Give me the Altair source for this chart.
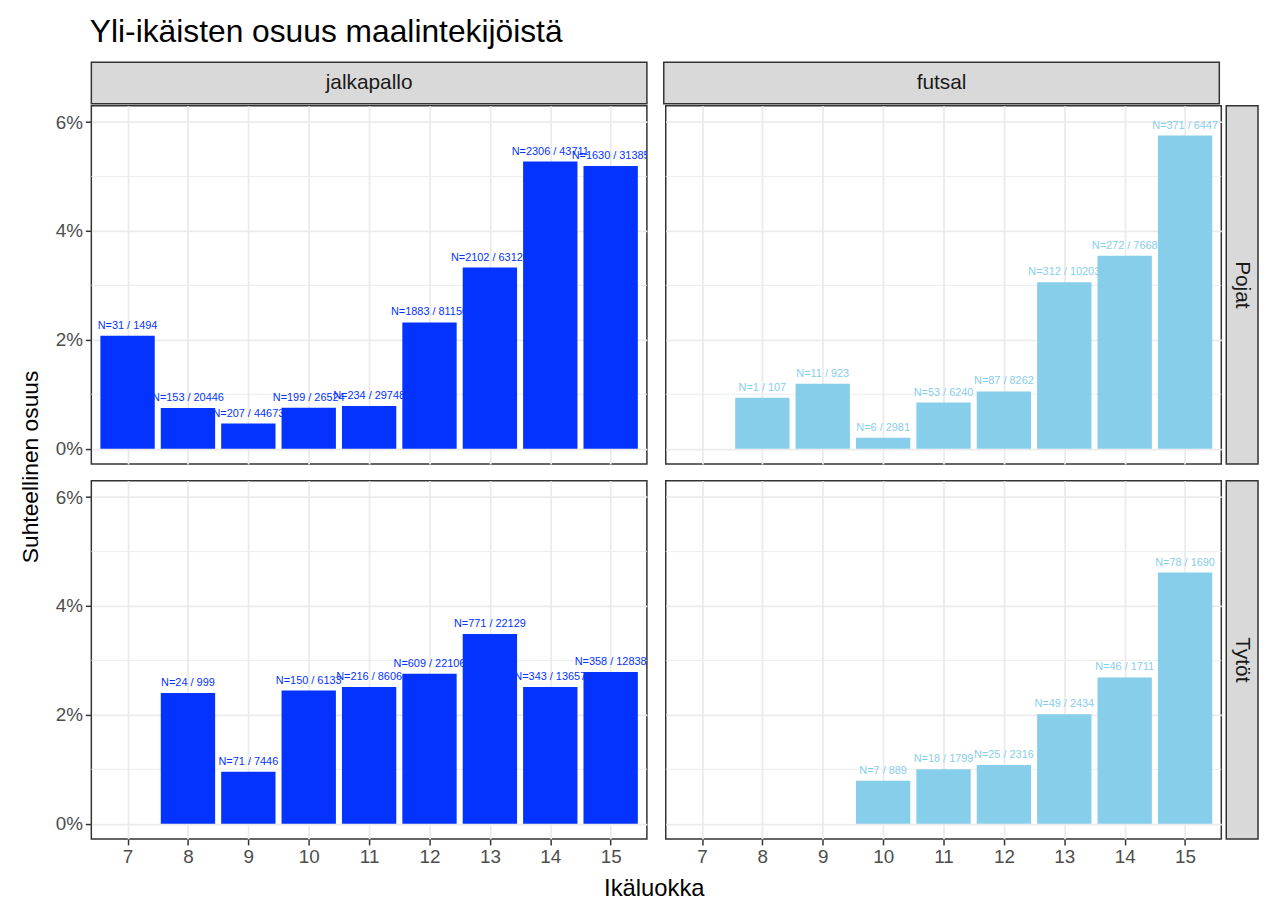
import altair as alt
import pandas as pd

title_text = "Yli-ikäisten osuus maalintekijöistä"
x_title = "Ikäluokka"
y_title = "Suhteellinen osuus"
sports = ["jalkapallo", "futsal"]
genders = ["Pojat", "Tytöt"]
ages = [7, 8, 9, 10, 11, 12, 13, 14, 15]

jk_pojat_n = [31, 153, 207, 199, 234, 1883, 2102, 2306, 1630]
jk_pojat_total = [1494, 20446, 44673, 26524, 29748, 81150, 63120, 43711, 31385]
fs_pojat_n = [None, 1, 11, 6, 53, 87, 312, 272, 371]
fs_pojat_total = [None, 107, 923, 2981, 6240, 8262, 10203, 7668, 6447]
jk_tytot_n = [None, 24, 71, 150, 216, 609, 771, 343, 358]
jk_tytot_total = [None, 999, 7446, 6133, 8606, 22106, 22129, 13657, 12838]
fs_tytot_n = [None, None, None, 7, 18, 25, 49, 46, 78]
fs_tytot_total = [None, None, None, 889, 1799, 2316, 2434, 1711, 1690]

y_major = [0, 0.02, 0.04, 0.06]
y_minor = [0.01, 0.03, 0.05]

colors = {"jalkapallo": "#0433FF", "futsal": "#87CEEB"}

PW, PH = 560, 361
FONT = "Liberation Sans"


def make_df(ns, totals):
    rows = []
    for a, n, t in zip(ages, ns, totals):
        if n is None:
            continue
        rows.append({"ika": a, "n": n, "total": t, "label": f"N={n} / {t}"})
    df = pd.DataFrame(rows)
    df["osuus"] = df["n"] / df["total"]
    return df


xscale = alt.Scale(domain=[6.4, 15.6], nice=False, zero=False)
yscale = alt.Scale(domain=[-0.0028, 0.063], nice=False, zero=False)


def panel(df, color, bottom, left):
    xaxis = alt.Axis(values=ages, grid=True, labels=bottom, ticks=bottom, domain=False,
                     labelFlush=False, title=None)
    yaxis = alt.Axis(values=y_major, grid=True, labels=left, ticks=left, domain=False,
                     format=".0%", title=None)
    base = alt.Chart(df).transform_calculate(
        x0="datum.ika - 0.45", x1="datum.ika + 0.45"
    )
    bars = base.mark_bar(color=color).encode(
        x=alt.X("x0:Q", scale=xscale, axis=xaxis),
        x2="x1:Q",
        y=alt.Y("osuus:Q", scale=yscale, axis=yaxis),
        y2=alt.datum(0),
    )
    minor = alt.Chart(pd.DataFrame({"v": y_minor})).mark_rule(
        color="#EBEBEB", strokeWidth=0.9
    ).encode(y=alt.Y("v:Q", scale=yscale, axis=yaxis))
    text = base.mark_text(color=color, fontSize=11, baseline="bottom", dy=-5,
                          clip=True).encode(
        x=alt.X("ika:Q", scale=xscale, axis=xaxis),
        y=alt.Y("osuus:Q", scale=yscale, axis=yaxis),
        text="label:N",
    )
    return alt.layer(minor, text, bars).properties(width=PW, height=PH)


strip_view = alt.ViewBackground(fill="#D9D9D9", stroke="#333333", strokeWidth=1.5)
blank_view = alt.ViewBackground(fill="transparent", stroke="transparent")


def col_strip(label):
    return alt.Chart(pd.DataFrame({"s": [label]})).mark_text(
        fontSize=21, color="#1A1A1A"
    ).encode(text="s:N").properties(width=PW, height=42, view=strip_view)


def row_strip(label):
    return alt.Chart(pd.DataFrame({"s": [label]})).mark_text(
        fontSize=21, color="#1A1A1A", angle=90
    ).encode(text="s:N").properties(width=32, height=PH, view=strip_view)


p11 = panel(make_df(jk_pojat_n, jk_pojat_total), colors["jalkapallo"], False, True)
p12 = panel(make_df(fs_pojat_n, fs_pojat_total), colors["futsal"], False, False)
p21 = panel(make_df(jk_tytot_n, jk_tytot_total), colors["jalkapallo"], True, True)
p22 = panel(make_df(fs_tytot_n, fs_tytot_total), colors["futsal"], True, False)

strips = alt.hconcat(col_strip(sports[0]), col_strip(sports[1]), spacing=15)
row1 = alt.hconcat(alt.hconcat(p11, p12, spacing=15), row_strip(genders[0]), spacing=2)
row2 = alt.hconcat(alt.hconcat(p21, p22, spacing=15), row_strip(genders[1]), spacing=2)

xtitle_chart = alt.Chart(pd.DataFrame({"s": [x_title]})).mark_text(
    fontSize=24, color="black"
).encode(text="s:N").properties(width=2 * PW + 15, height=20, view=blank_view)

ytitle_chart = alt.Chart(pd.DataFrame({"s": [y_title]})).mark_text(
    fontSize=23, color="black", angle=270
).encode(text="s:N").properties(width=24, height=816, view=blank_view)

grid = alt.vconcat(
    alt.vconcat(alt.vconcat(strips, row1, spacing=0), row2, spacing=15),
    xtitle_chart, spacing=9,
)

chart = alt.hconcat(ytitle_chart, grid, spacing=10).properties(
    title=alt.TitleParams(title_text, anchor="start", fontSize=32, font=FONT,
                          fontWeight="normal", color="black", offset=13, dx=72),
    padding={"left": 10, "top": 4, "right": 0, "bottom": 0},
).configure(font=FONT).configure_view(
    stroke="#333333", strokeWidth=1.5, fill="white"
).configure_axis(
    gridColor="#EBEBEB", gridWidth=1.8, tickColor="#333333", tickWidth=1.5,
    tickSize=6, labelColor="#4D4D4D", labelFontSize=19, labelPadding=3,
    labelFont=FONT, titleFont=FONT,
)

chart.save("out.html", embed_options={"renderer": "svg", "actions": False})
